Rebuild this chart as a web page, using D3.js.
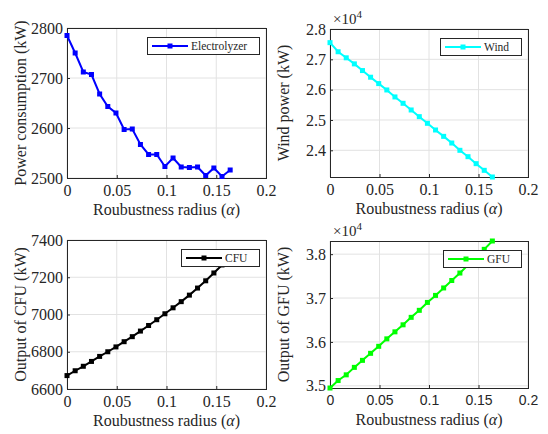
<!DOCTYPE html>
<html>
<head>
<meta charset="utf-8">
<script src="https://cdn.jsdelivr.net/npm/d3@7"></script>
<style>
  body { margin: 0; background: #fff; }
  svg text { font-family: 'Liberation Serif', 'Times New Roman', serif; fill: #262626; }
</style>
</head>
<body>
<svg id="chart" width="548" height="434"></svg>
<script>
// robustness radius, shared by all four panels
const alpha = [0, 0.0082, 0.0164, 0.0246, 0.0328, 0.041, 0.0492, 0.0574, 0.0656, 0.0738,
  0.082, 0.0902, 0.0984, 0.1066, 0.1148, 0.123, 0.1312, 0.1394, 0.1476, 0.1558, 0.164]

const electrolyzer = [2785, 2750, 2712, 2707, 2668, 2643, 2630, 2597, 2598, 2567,
  2547, 2547, 2523, 2540, 2522, 2521, 2522, 2505, 2520, 2503, 2516]

// wind and GFU are in units of 10^4 kW
const wind = [2.755, 2.725, 2.705, 2.685, 2.663, 2.641, 2.620, 2.599, 2.576, 2.555,
  2.533, 2.511, 2.489, 2.467, 2.446, 2.424, 2.400, 2.379, 2.356, 2.334, 2.312]

const cfu = [6672, 6698, 6722, 6748, 6775, 6800, 6826, 6854, 6881, 6911,
  6941, 6972, 7004, 7036, 7069, 7104, 7142, 7181, 7223, 7266, 7310]

const gfu = [3.495, 3.512, 3.525, 3.542, 3.558, 3.574, 3.590, 3.607, 3.623, 3.639,
  3.656, 3.672, 3.690, 3.706, 3.723, 3.740, 3.757, 3.775, 3.793, 3.811, 3.830]

const xTicks = [0, 0.05, 0.1, 0.15, 0.2]
const elecTicks = [2500, 2600, 2700, 2800]
const windTicks = [2.4, 2.5, 2.6, 2.7, 2.8]
const cfuTicks = [6600, 6800, 7000, 7200, 7400]
const gfuTicks = [3.5, 3.6, 3.7, 3.8]

const svg = d3.select('#chart')

const panels = [
  { values: electrolyzer, name: 'Electrolyzer', color: '#0000ff', ylabel: 'Power consumption (kW)',
    box: [67, 28, 199, 150], ydom: [2500, 2800], yticks: elecTicks, legendW: 112 },
  { values: wind, name: 'Wind', color: '#00ffff', ylabel: 'Wind power (kW)',
    box: [330, 29, 198, 148], ydom: [2.312, 2.8], yticks: windTicks, legendW: 81, exp: true },
  { values: cfu, name: 'CFU', color: '#000000', ylabel: 'Output of CFU (kW)',
    box: [67, 240, 199, 149], ydom: [6600, 7400], yticks: cfuTicks, legendW: 78 },
  { values: gfu, name: 'GFU', color: '#00ff00', ylabel: 'Output of GFU (kW)',
    box: [330, 241, 198, 147], ydom: [3.495, 3.83], yticks: gfuTicks, legendW: 78, exp: true, sansX: true }
]

const drawPanel = p => {
  const [x0, y0, w, h] = p.box
  const x = d3.scaleLinear().domain([0, 0.2]).range([x0, x0 + w])
  const y = d3.scaleLinear().domain(p.ydom).range([y0 + h, y0])
  const g = svg.append('g')

  // grid
  g.selectAll('.gx').data(xTicks).enter().append('line')
    .attr('x1', d => x(d)).attr('x2', d => x(d))
    .attr('y1', y0).attr('y2', y0 + h)
    .attr('stroke', '#e2e2e2').attr('stroke-width', 1)
  g.selectAll('.gy').data(p.yticks).enter().append('line')
    .attr('x1', x0).attr('x2', x0 + w)
    .attr('y1', d => y(d)).attr('y2', d => y(d))
    .attr('stroke', '#e2e2e2').attr('stroke-width', 1)

  // axes (ticks inside, MATLAB style)
  const ax = g.append('g').attr('transform', `translate(0,${y0 + h})`)
    .call(d3.axisBottom(x).tickValues(xTicks).tickSize(-3).tickPadding(7).tickFormat(d3.format('~g')))
  ax.select('.domain').remove()
  ax.selectAll('line').attr('stroke', '#262626')
  ax.selectAll('text').attr('fill', '#262626')
    .style('font-family', p.sansX ? "'Liberation Sans', Arial, sans-serif" : "'Liberation Serif', serif")
    .style('font-size', p.sansX ? '14px' : '16px')

  const ay = g.append('g').attr('transform', `translate(${x0},0)`)
    .call(d3.axisLeft(y).tickValues(p.yticks).tickSize(-3).tickPadding(4).tickFormat(d3.format('~g')))
  ay.select('.domain').remove()
  ay.selectAll('line').attr('stroke', '#262626')
  ay.selectAll('text').attr('fill', '#262626')
    .style('font-family', "'Liberation Serif', serif").style('font-size', '16px')

  g.append('rect')
    .attr('x', x0 + 0.5).attr('y', y0 + 0.5).attr('width', w).attr('height', h)
    .attr('fill', 'none').attr('stroke', '#262626').attr('stroke-width', 1)

  // series
  const pts = alpha.map((a, i) => [a, p.values[i]])
  g.append('path').datum(pts)
    .attr('d', d3.line().x(d => x(d[0])).y(d => y(d[1])))
    .attr('fill', 'none').attr('stroke', p.color).attr('stroke-width', 2)
  g.selectAll('.m').data(pts).enter().append('rect')
    .attr('x', d => x(d[0]) - 2.5).attr('y', d => y(d[1]) - 2.5)
    .attr('width', 5).attr('height', 5).attr('fill', p.color)

  // labels
  const xl = g.append('text')
    .attr('x', x0 + w / 2).attr('y', y0 + h + 37)
    .attr('text-anchor', 'middle').style('font-size', '16px').attr('fill', '#333')
  xl.append('tspan').text('Roubustness radius (')
  xl.append('tspan').attr('font-style', 'italic').text('α')
  xl.append('tspan').text(')')

  g.append('text')
    .attr('transform', `translate(${x0 - 41},${y0 + h / 2}) rotate(-90)`)
    .attr('text-anchor', 'middle').style('font-size', '16px').attr('fill', '#333')
    .text(p.ylabel)

  if (p.exp) {
    const ex = g.append('text').attr('x', x0 + 3).attr('y', y0 - 5).style('font-size', '15px')
    ex.append('tspan').text('×10')
    ex.append('tspan').attr('dy', -6).style('font-size', '11px').text('4')
  }

  // legend
  const lw = p.legendW
  const lx = x0 + w - 7 - lw
  const ly = y0 + 9
  const lg = g.append('g')
  lg.append('rect').attr('x', lx + 0.5).attr('y', ly + 0.5).attr('width', lw).attr('height', 17)
    .attr('fill', '#fff').attr('stroke', '#262626').attr('stroke-width', 1)
  lg.append('line').attr('x1', lx + 5).attr('x2', lx + 41).attr('y1', ly + 9).attr('y2', ly + 9)
    .attr('stroke', p.color).attr('stroke-width', 2)
  lg.append('rect').attr('x', lx + 23 - 2.5).attr('y', ly + 9 - 2.5).attr('width', 5).attr('height', 5)
    .attr('fill', p.color)
  lg.append('text').attr('x', lx + 44).attr('y', ly + 13).style('font-size', '11.5px').text(p.name)
}

panels.forEach(drawPanel)
</script>
</body>
</html>
